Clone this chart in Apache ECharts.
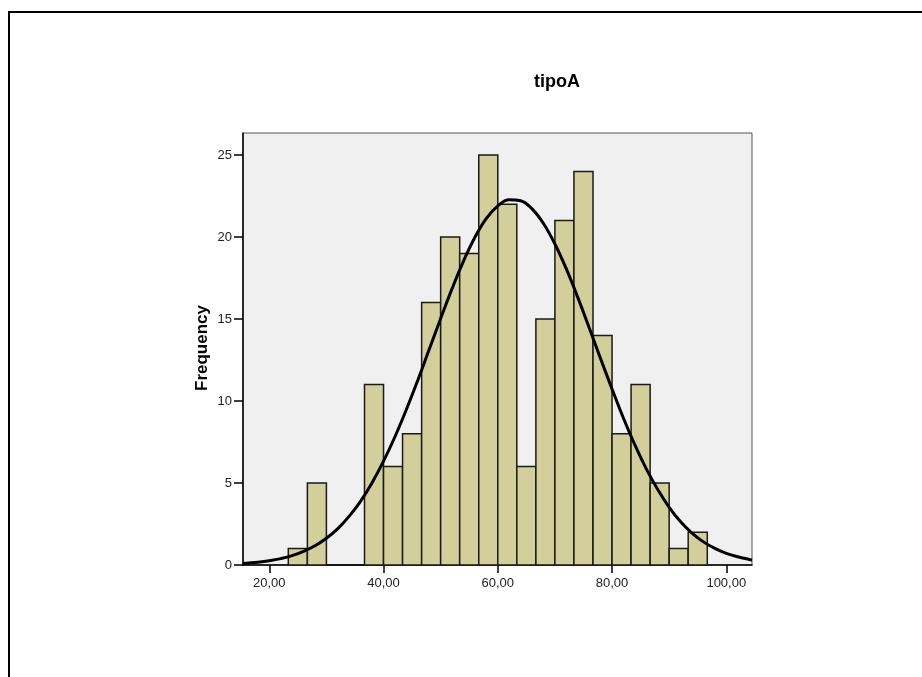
<!DOCTYPE html>
<html>
<head>
<meta charset="utf-8">
<script src="https://cdn.jsdelivr.net/npm/echarts@6/dist/echarts.min.js"></script>
<style>html,body{margin:0;padding:0;background:#fff;}#c{width:922px;height:677px;}</style>
</head>
<body>
<div id="c"></div>
<script>
// Histogram bins (lower and upper edges) and frequencies
const binLower = [23.33, 26.67, 30.00, 33.33, 36.67, 40.00, 43.33, 46.67, 50.00, 53.33, 56.67, 60.00, 63.33, 66.67, 70.00, 73.33, 76.67, 80.00, 83.33, 86.67, 90.00, 93.33];
const binUpper = [26.67, 30.00, 33.33, 36.67, 40.00, 43.33, 46.67, 50.00, 53.33, 56.67, 60.00, 63.33, 66.67, 70.00, 73.33, 76.67, 80.00, 83.33, 86.67, 90.00, 93.33, 96.67];
const frequency = [1, 5, 0, 0, 11, 6, 8, 16, 20, 19, 25, 22, 6, 15, 21, 24, 14, 8, 11, 5, 1, 2];
// Normal curve
const curveX = [15.4, 16, 18, 20, 22, 24, 26, 28, 30, 32, 34, 36, 38, 40, 42, 44, 46, 48, 50, 52, 54, 56, 58, 60, 62, 64, 66, 68, 70, 72, 74, 76, 78, 80, 82, 84, 86, 88, 90, 92, 94, 96, 98, 100, 102, 104, 104.5];
const curveY = [0.09, 0.11, 0.17, 0.26, 0.39, 0.57, 0.83, 1.17, 1.63, 2.22, 2.98, 3.90, 5.02, 6.33, 7.82, 9.48, 11.27, 13.15, 15.03, 16.85, 18.53, 19.98, 21.13, 21.90, 22.27, 22.21, 21.71, 20.82, 19.57, 18.05, 16.32, 14.47, 12.58, 10.73, 8.95, 7.32, 5.86, 4.60, 3.52, 2.64, 1.95, 1.41, 1.01, 0.71, 0.50, 0.34, 0.31];
const xTicks = [20, 40, 60, 80, 100];
const yTicks = [0, 5, 10, 15, 20, 25];
const titleText = 'tipoA';
const yName = 'Frequency';

const chart = echarts.init(document.getElementById('c'), null, {renderer: 'canvas'});
const barData = frequency.map((f, i) => [binLower[i], binUpper[i], f]);
const lineData = curveX.map((x, i) => [x, curveY[i]]);

chart.setOption({
  animation: false,
  backgroundColor: '#ffffff',
  graphic: [{
    type: 'rect', silent: true,
    shape: {x: 9, y: 12, width: 1000, height: 1000},
    style: {fill: 'none', stroke: '#000', lineWidth: 2}
  }, {
    type: 'text', silent: true,
    style: {text: titleText, font: 'bold 18px "Liberation Sans", Arial, sans-serif', fill: '#000', align: 'center', verticalAlign: 'middle'},
    x: 557, y: 82
  }, {
    type: 'text', rotation: Math.PI / 2, silent: true,
    style: {text: yName, font: 'bold 17px "Liberation Sans", Arial, sans-serif', fill: '#000', align: 'center', verticalAlign: 'middle'},
    x: 202, y: 348
  }],
  grid: {
    left: 243, top: 133, right: 170, bottom: 112,
    show: true, backgroundColor: '#f0f0f0', borderColor: '#555', borderWidth: 1
  },
  xAxis: {
    type: 'value', min: 15.4, max: 104.5,
    splitLine: {show: false},
    axisLine: {show: true, onZero: false, lineStyle: {color: '#000', width: 1.5}},
    axisTick: {show: true, length: 8, customValues: xTicks, lineStyle: {color: '#000', width: 1.5}},
    axisLabel: {
      customValues: xTicks, margin: 12,
      fontFamily: 'Liberation Sans, Arial, sans-serif', fontSize: 13, color: '#222',
      formatter: v => v.toFixed(2).replace('.', ',')
    }
  },
  yAxis: {
    type: 'value', min: 0, max: 26.34,
    splitLine: {show: false},
    axisLine: {show: true, lineStyle: {color: '#000', width: 1.5}},
    axisTick: {show: true, length: 9, customValues: yTicks, lineStyle: {color: '#000', width: 1.5}},
    axisLabel: {
      customValues: yTicks, margin: 11,
      fontFamily: 'Liberation Sans, Arial, sans-serif', fontSize: 13, color: '#222'
    }
  },
  series: [{
    type: 'custom',
    data: barData,
    encode: {x: [0, 1], y: 2},
    renderItem: function (params, api) {
      const p0 = api.coord([api.value(0), 0]);
      const p1 = api.coord([api.value(1), api.value(2)]);
      if (api.value(2) <= 0) {
        return {type: 'line', shape: {x1: p0[0], y1: p0[1], x2: p1[0], y2: p0[1]}, style: {stroke: '#111', lineWidth: 1.5}};
      }
      return {
        type: 'rect',
        shape: {x: p0[0], y: p1[1], width: p1[0] - p0[0], height: p0[1] - p1[1]},
        style: {fill: '#d3cf9a', stroke: '#1a1a1a', lineWidth: 1.5}
      };
    },
    z: 2
  }, {
    type: 'line',
    data: lineData,
    smooth: 0.4,
    showSymbol: false,
    symbol: 'none',
    lineStyle: {color: '#000', width: 3},
    z: 3
  }]
});
</script>
</body>
</html>
